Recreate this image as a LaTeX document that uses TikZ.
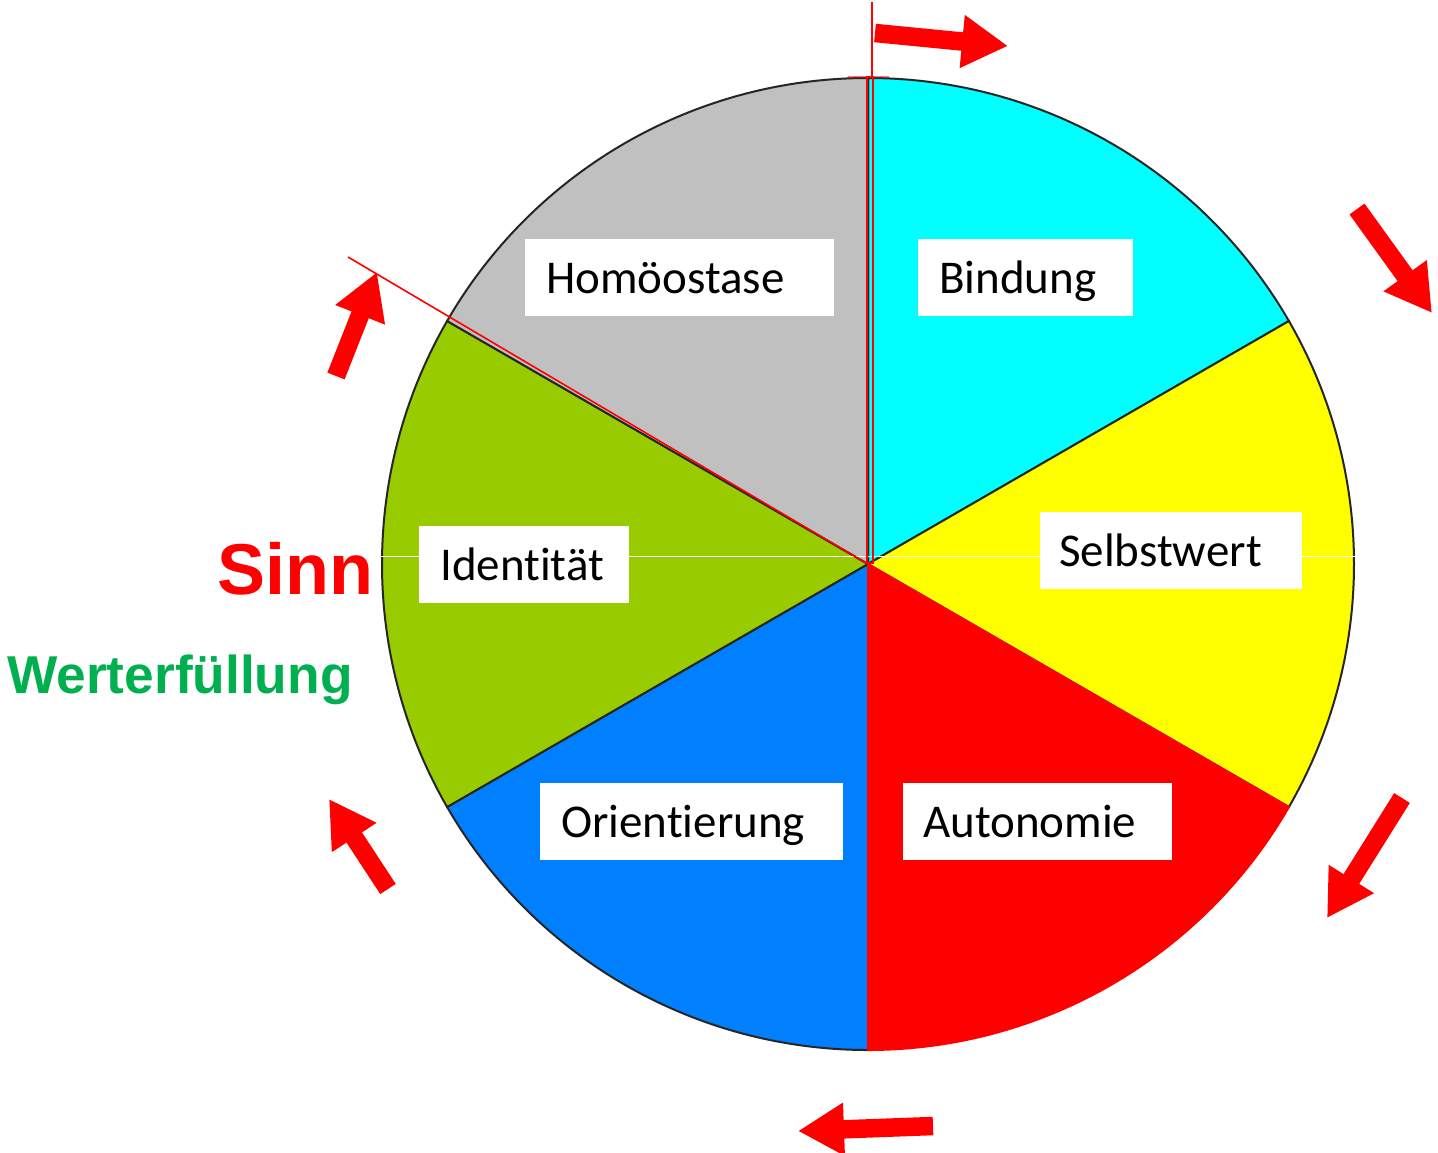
\documentclass[tikz,border=0pt]{standalone}
\usepackage{fontspec}
\setmainfont{Carlito}[Ligatures={NoCommon,NoRequired,NoContextual}]
\newfontfamily\arialfont{Liberation Sans}
\usetikzlibrary{arrows.meta,calc}
\definecolor{cCyan}{HTML}{00FFFF}
\definecolor{cYellow}{HTML}{FFFF00}
\definecolor{cRed}{HTML}{FF0000}
\definecolor{cBlue}{HTML}{0080FF}
\definecolor{cGreen}{HTML}{99CC00}
\definecolor{cGray}{HTML}{C0C0C0}
\definecolor{cText}{HTML}{00B050}
\tikzset{
  sector/.style={draw=black!85, line width=2pt},
  labelbox/.style={fill=white, draw=none, inner sep=0pt, anchor=north west, minimum height=77pt},
  labeltext/.style={anchor=base west, inner sep=0pt, font=\fontsize{47}{56}\selectfont},
  blockarrow/.style={draw=cRed, line width=18.5pt, line cap=butt, -{Triangle[length=46pt,width=50pt]}, cRed},
  redline/.style={draw=cRed, line width=1.6pt}
}
\begin{document}
\begin{tikzpicture}[x=1pt,y=-1pt]
\useasboundingbox (0,0) rectangle (1438,1152);
\fill[white] (0,0) rectangle (1438,1152);
% pie
\begin{scope}[shift={(868,564)}, x=1pt, y=1pt]
  \coordinate (ctr) at (0,0);
  \filldraw[sector, fill=cCyan] (0,0) -- (90:486) arc[start angle=90, end angle=30, radius=486] -- cycle;
  \filldraw[sector, fill=cYellow] (0,0) -- (30:486) arc[start angle=30, end angle=-30, radius=486] -- cycle;
  \filldraw[sector, fill=cBlue] (0,0) -- (-90:486) arc[start angle=-90, end angle=-150, radius=486] -- cycle;
  \filldraw[sector, fill=cGreen] (0,0) -- (150:486) arc[start angle=150, end angle=210, radius=486] -- cycle;
  \filldraw[sector, fill=cGray] (0,0) -- (90:486) arc[start angle=90, end angle=150, radius=486] -- cycle;
  \filldraw[sector, draw=cRed, fill=cRed] (0,0) -- (-30:486) arc[start angle=-30, end angle=-90, radius=486] -- cycle;
\end{scope}
% thin white horizontal line
\coordinate (wl1) at (380,556);
\coordinate (wl2) at (1357,556);
\draw[white, line width=0.8pt] (wl1) -- (wl2);
% red markers
\coordinate (vtop) at (872,2);
\coordinate (vbase) at (872,77);
\coordinate (rtl) at (867,77);
\coordinate (rbr) at (873,563);
\coordinate (hb1) at (848,77);
\coordinate (hb2) at (889,77);
\draw[cRed, line width=2.5pt, opacity=0.55] (hb1) -- (hb2);
\draw[redline, line width=1.3pt] (rtl) rectangle (rbr);
\draw[redline] (vtop) -- (vbase);
\coordinate (dstart) at (348,257);
\coordinate (dend) at (866,563);
\draw[redline] (dstart) -- (dend);
% label boxes
\node[labelbox, minimum width=309pt] (bHom) at (525,239) {};
\node[labeltext] (tHom) at (546,293) {Homöostase};
\node[labelbox, minimum width=215pt] (bBin) at (918,239) {};
\node[labeltext] (tBin) at (939,293) {Bindung};
\node[labelbox, minimum width=262pt] (bSel) at (1040,512) {};
\node[labeltext] (tSel) at (1059,566) {Selbstwert};
\node[labelbox, minimum width=210pt] (bIde) at (419,526) {};
\node[labeltext] (tIde) at (440,580) {Identität};
\node[labelbox, minimum width=303pt] (bOri) at (540,783) {};
\node[labeltext] (tOri) at (561,837) {Orientierung};
\node[labelbox, minimum width=269pt] (bAut) at (903,783) {};
\node[labeltext] (tAut) at (923,837) {Autonomie};
% side texts
\node[anchor=base west, inner sep=0pt, text=cRed, font=\arialfont\bfseries\fontsize{72}{80}\selectfont] (sinn) at (217,594) {Sinn};
\node[anchor=base west, inner sep=0pt, text=cText, font=\arialfont\bfseries\fontsize{53.3}{60}\selectfont] (wert) at (7,693) {Werterfüllung};
% block arrows
\coordinate (a1s) at (875,33);   \coordinate (a1e) at (1008,46);
\coordinate (a2s) at (1357,209); \coordinate (a2e) at (1432,313);
\coordinate (a3s) at (1402,798); \coordinate (a3e) at (1327,918);
\coordinate (a4s) at (933,1126); \coordinate (a4e) at (798,1131);
\coordinate (a5s) at (388,889);  \coordinate (a5e) at (329,799);
\coordinate (a6s) at (336,376);  \coordinate (a6e) at (377,272);
\draw[blockarrow] (a1s) -- (a1e);
\draw[blockarrow] (a2s) -- (a2e);
\draw[blockarrow] (a3s) -- (a3e);
\draw[blockarrow] (a4s) -- (a4e);
\draw[blockarrow] (a5s) -- (a5e);
\draw[blockarrow] (a6s) -- (a6e);
\end{tikzpicture}
\end{document}
